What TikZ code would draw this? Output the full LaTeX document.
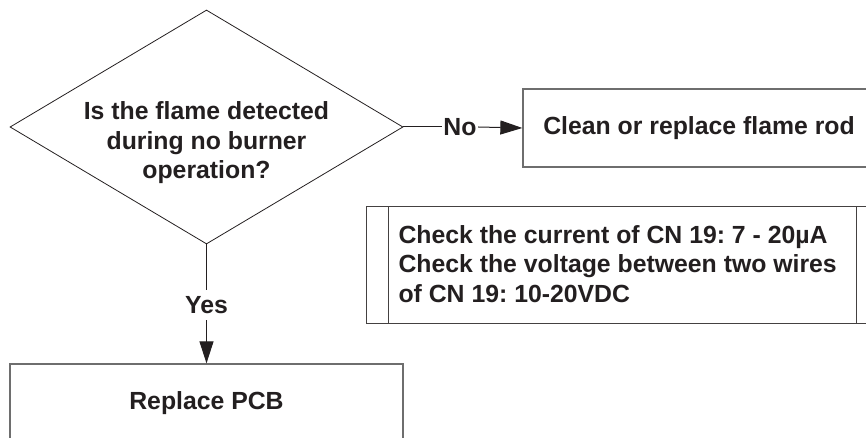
\documentclass[tikz,border=0pt]{standalone}
\usepackage{fontspec}
\setmainfont{Liberation Sans}
\usetikzlibrary{shapes.geometric,arrows.meta}
\definecolor{ink}{HTML}{231F20}
\definecolor{boxgray}{HTML}{6E6E6E}
\frenchspacing
\begin{document}
\begin{tikzpicture}[x=1pt,y=-1pt,
  lbl/.style={font=\fontsize{24.8}{29.5}\selectfont\bfseries, text=ink},
  decision/.style={diamond, draw=ink, line width=0.8pt, inner sep=0pt,
    minimum width=393pt, minimum height=234pt},
  procbox/.style={rectangle, draw=boxgray, line width=1.3pt, lbl,
    minimum width=352pt, minimum height=78pt, inner sep=0pt},
  predef/.style={rectangle, draw=ink!85, line width=1pt, inner sep=0pt},
  conn/.style={draw=ink, line width=1pt},
  arr/.style={conn, -{Triangle[length=22pt,width=14pt]}},
  edgelbl/.style={lbl, inner sep=0pt}
]
\useasboundingbox (0,0) rectangle (866,438);
\clip (0,0) rectangle (866,438);

% decision
\node[decision] (dia) at (206.5,127) {};
\node[lbl, align=center] (diatext) at (206.5,143)
  {Is the flame detected\\during no burner\\operation?};

% process boxes
\node[procbox] (rod) at (699,128) {Clean or replace flame rod};
\node[procbox, minimum width=393pt] (pcb) at (206.5,403) {Replace PCB};

% predefined process box
\node[predef, minimum width=512.5pt, minimum height=116.5pt] (pp) at (622.25,265) {};
\draw[draw=ink!85, line width=1pt] ([xshift=23pt]pp.north west) -- ([xshift=23pt]pp.south west);
\draw[draw=ink!85, line width=1pt] ([xshift=-23pt]pp.north east) -- ([xshift=-23pt]pp.south east);
\node[lbl, align=left, anchor=west] (pptext) at (395,264)
  {Check the current of CN 19: 7 - 20µA\\Check the voltage between two wires\\of CN 19: 10-20VDC};

% No branch
\node[edgelbl, minimum width=36pt] (no) at (460,127) {No};
\draw[conn] (dia.east) -- (no.west);
\draw[arr] (no.east) -- (rod.west);

% Yes branch
\node[edgelbl, minimum height=30pt] (yes) at (206.5,305) {Yes};
\draw[conn] (dia.south) -- (yes.north);
\draw[arr] (yes.south) -- (pcb.north);
\end{tikzpicture}
\end{document}
